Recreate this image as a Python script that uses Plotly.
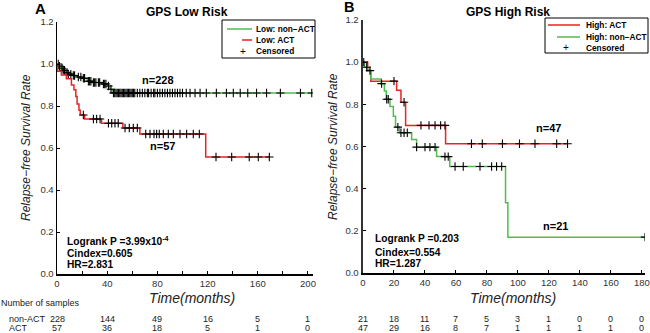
import numpy as np
import plotly.graph_objects as go

FONT = "Arial, 'Liberation Sans', sans-serif"
GREEN = "#52BC52"
RED = "#E82323"
W, H = 650, 333

# ---------------- Panel A: GPS Low Risk ----------------
a_nonact_t = [0, 1.5, 3, 5, 7, 9, 12, 16, 20, 24, 28, 36, 40, 42, 44, 203]
a_nonact_s = [1.0, 0.99, 0.98, 0.97, 0.96, 0.952, 0.945, 0.938, 0.932, 0.918, 0.912, 0.905, 0.895, 0.88, 0.862, 0.862]
a_nonact_cens = [1, 2, 4, 5, 6, 8, 9, 11, 13, 14, 17, 19, 21, 22, 25, 26, 27, 29, 30, 31, 33, 34, 37, 38, 39, 41, 43,
                 45, 46, 47, 48, 49, 50, 51, 52, 53, 54, 55, 56, 57, 58, 59, 60, 61, 62, 64, 66, 68, 70, 72, 73, 75,
                 77, 78, 80, 82, 84, 86, 88, 90, 92, 94, 96, 98, 100, 103, 106, 110, 114, 119, 127, 135, 140.5, 146,
                 152, 159, 167, 178, 194, 203]
a_act_t = [0, 0.5, 3.5, 7.5, 11.5, 13.5, 15, 16, 17.5, 18.5, 22, 35.5, 52.5, 66, 118.5, 169.2]
a_act_s = [1.0, 0.965, 0.948, 0.93, 0.9, 0.877, 0.845, 0.81, 0.78, 0.757, 0.738, 0.718, 0.695, 0.667, 0.557, 0.557]
a_act_cens = [21, 29, 31.6, 34.3, 41, 43.6, 46.2, 48.8, 54.2, 57.6, 60.8, 64, 70.7, 74.1, 77.3, 79.4, 81.5, 84.7,
              88.7, 92.7, 98, 103.3, 108.6, 113.4, 126.7, 139.2, 153.2, 160.4, 169.2]
a_ticks = [0, 40, 80, 120, 160, 200]
a_risk_nonact = [228, 144, 49, 16, 5, 1]
a_risk_act = [57, 36, 18, 5, 1, 0]
a_stats = ["Logrank P =3.99x10<sup>-4</sup>", "Cindex=0.605", "HR=2.831"]

# ---------------- Panel B: GPS High Risk ----------------
b_act_t = [0, 3, 5, 21.7, 24.5, 27.5, 53.3, 132]
b_act_s = [1.0, 0.96, 0.91, 0.867, 0.81, 0.70, 0.613, 0.613]
b_act_cens = [20, 26.5, 37.4, 42.6, 46.5, 50.1, 52.9, 70, 77, 90, 101, 111, 125, 132]
b_nonact_t = [0, 1, 3, 5, 11.6, 13.8, 15, 17.4, 19.6, 21, 23.5, 31.4, 34.6, 47.5, 56, 92, 93.5, 182]
b_nonact_s = [1.0, 0.976, 0.96, 0.92, 0.898, 0.863, 0.824, 0.79, 0.744, 0.692, 0.665, 0.633, 0.597, 0.552, 0.505,
              0.333, 0.17, 0.17]
b_nonact_cens = [0.5, 2.4, 4.5, 12, 15.3, 16.3, 22.5, 24.5, 26.5, 28.6, 34.6, 40, 43.2, 46.5, 52.9, 55, 59.4, 64.7,
                 75.5, 83, 86.2, 89.5, 182]
b_ticks = [0, 20, 40, 60, 80, 100, 120, 140, 160, 180]
b_risk_nonact = [21, 18, 11, 7, 5, 3, 1, 0, 0, 0]
b_risk_act = [47, 29, 16, 8, 7, 1, 1, 1, 1, 0]
b_stats = ["Logrank P =0.203", "Cindex=0.554", "HR=1.287"]

y_ticks = [0.0, 0.2, 0.4, 0.6, 0.8, 1.0, 1.2]


def step_at(times, surv, pts):
    idx = np.searchsorted(np.array(times), np.array(pts), side="right") - 1
    return list(np.array(surv)[idx])


fig = go.Figure()


def add_curve(t, s, cens, color, name, xa, ya):
    fig.add_trace(go.Scatter(x=t, y=s, mode="lines", line=dict(color=color, width=1.5, shape="hv"),
                             name=name, showlegend=False, xaxis=xa, yaxis=ya, hoverinfo="skip"))
    fig.add_trace(go.Scatter(x=cens, y=step_at(t, s, cens), mode="markers", name="Censored",
                             marker=dict(symbol="cross-thin", size=6, line=dict(color="black", width=1.1)),
                             showlegend=False, xaxis=xa, yaxis=ya, hoverinfo="skip"))


add_curve(a_nonact_t, a_nonact_s, a_nonact_cens, GREEN, "Low: non-ACT", "x", "y")
add_curve(a_act_t, a_act_s, a_act_cens, RED, "Low: ACT", "x", "y")
add_curve(b_act_t, b_act_s, b_act_cens, RED, "High: ACT", "x2", "y2")
add_curve(b_nonact_t, b_nonact_s, b_nonact_cens, GREEN, "High: non-ACT", "x2", "y2")


def px(v):
    return v / W


def py(v):
    return (H - v) / H


tickfont = dict(family=FONT, size=9.5, color="#333")
axis_common = dict(showgrid=False, zeroline=False, showline=True, ticks="inside", automargin=False,
                   ticklen=3, tickcolor="black", tickfont=tickfont, fixedrange=True,
                   ticklabeloverflow="allow")

fig.update_layout(
    template="none",
    width=W, height=H, margin=dict(l=0, r=0, t=0, b=0, pad=0, autoexpand=False),
    paper_bgcolor="white", plot_bgcolor="white", showlegend=False,
    font=dict(family=FONT, color="black"),
    xaxis=dict(domain=[px(57), px(313)], range=[0, 204], tickvals=a_ticks, linewidth=1.5, linecolor="black",
               minor=dict(dtick=20, ticks="inside", ticklen=3, tickcolor="black"), anchor="y", **axis_common),
    yaxis=dict(domain=[py(274), py(22)], range=[0, 1.2], tickvals=y_ticks, tickformat=".1f", linewidth=1.5,
               linecolor="black", anchor="x", **axis_common),
    xaxis2=dict(domain=[px(363), px(645)], range=[0, 182], tickvals=b_ticks, linewidth=1.5, linecolor="black",
                anchor="y2", **axis_common),
    yaxis2=dict(domain=[py(273), py(20)], range=[0, 1.2], tickvals=y_ticks, tickformat=".1f", linewidth=2.5,
                linecolor="#333", anchor="x2", **axis_common),
)

ann = []


def text(x, y, s, size=10, bold=False, italic=False, xanchor="center", xref="paper", yref="paper", angle=0,
         color="black"):
    if bold:
        s = "<b>" + s + "</b>"
    if italic:
        s = "<i>" + s + "</i>"
    ann.append(dict(x=x, y=y, text=s, xref=xref, yref=yref, showarrow=False, xanchor=xanchor, yanchor="middle",
                    font=dict(family=FONT, size=size, color=color), textangle=angle, borderpad=0))


# titles and panel letters
text(px(40), py(9), "A", size=15, bold=True)
text(px(187), py(12), "GPS Low Risk", size=12, bold=True)
text(px(349), py(7), "B", size=14.5, bold=True)
text(px(508), py(12), "GPS High Risk", size=12, bold=True)

# axis titles
text(px(192), py(298), "Time(months)", size=14, italic=True, color="#222")
text(px(513), py(298), "Time(months)", size=14, italic=True, color="#222")
text(px(26), py(148), "Relapse\u2212free Survival Rate", size=12, italic=True, angle=-90, color="#222")
text(px(333), py(147), "Relapse\u2212free Survival Rate", size=12, italic=True, angle=-90, color="#222")

# group sizes
text(80.5, 0.924, "n=228", size=11, bold=True, xref="x", yref="y")
text(83.7, 0.61, "n=57", size=11, bold=True, xref="x", yref="y")
text(119.4, 0.686, "n=47", size=11, bold=True, xref="x2", yref="y2")
text(124, 0.224, "n=21", size=11, bold=True, xref="x2", yref="y2")

# statistics
for s, yy in zip(a_stats, [241, 253, 264]):
    text(px(66), py(yy), s, size=10.2, bold=True, xanchor="left")
for s, yy in zip(b_stats, [238, 252, 263]):
    text(px(374), py(yy), s, size=10.2, bold=True, xanchor="left")

# number at risk
text(0, py(303), "Number of samples", size=9, xanchor="left", color="#222")
text(px(8), py(318.5), "non-ACT", size=9, xanchor="left", color="#222")
text(px(8), py(328), "ACT", size=9, xanchor="left", color="#222")
for t, n1, n2 in zip(a_ticks, a_risk_nonact, a_risk_act):
    text(t, py(318.5), str(n1), size=9, xref="x", color="#222")
    text(t, py(328), str(n2), size=9, xref="x", color="#222")
for t, n1, n2 in zip(b_ticks, b_risk_nonact, b_risk_act):
    text(t, py(318.5), str(n1), size=9, xref="x2", color="#222")
    text(t, py(328), str(n2), size=9, xref="x2", color="#222")

# custom legends (compact boxes as in the reference)
shapes = []
legend_a = [("Low: non\u2212ACT", GREEN, 227), ("Low: ACT", RED, 242), ("Censored", None, 0)]
legend_b = [("High: ACT", RED, 548), ("High: non\u2212ACT", GREEN, 557), ("Censored", None, 0)]


def draw_legend(items, box, line_end, mark_x, text_x, ys):
    x0, y0, x1, y1 = box
    shapes.append(dict(type="rect", xref="paper", yref="paper", x0=px(x0), x1=px(x1), y0=py(y1), y1=py(y0),
                       line=dict(color="black", width=1), fillcolor="white"))
    for (label, color, lx0), yy in zip(items, ys):
        if color:
            shapes.append(dict(type="line", xref="paper", yref="paper", x0=px(lx0), x1=px(line_end),
                               y0=py(yy), y1=py(yy), line=dict(color=color, width=1.5)))
        else:
            text(px(mark_x), py(yy), "+", size=10)
        text(px(text_x), py(yy), label, size=8.3, bold=True, xanchor="left")


draw_legend(legend_a, (222, 20, 315, 58), 252, 243, 255, [29, 40, 51])
draw_legend(legend_b, (545, 18, 648, 53), 580, 566, 585, [25, 37, 48])

fig.update_layout(annotations=ann, shapes=shapes)
fig.write_html("out.html", config={"displayModeBar": False, "staticPlot": True},
               post_script="document.body.style.margin='0px';document.body.style.padding='0px';"
                           "document.body.style.overflow='hidden';")
